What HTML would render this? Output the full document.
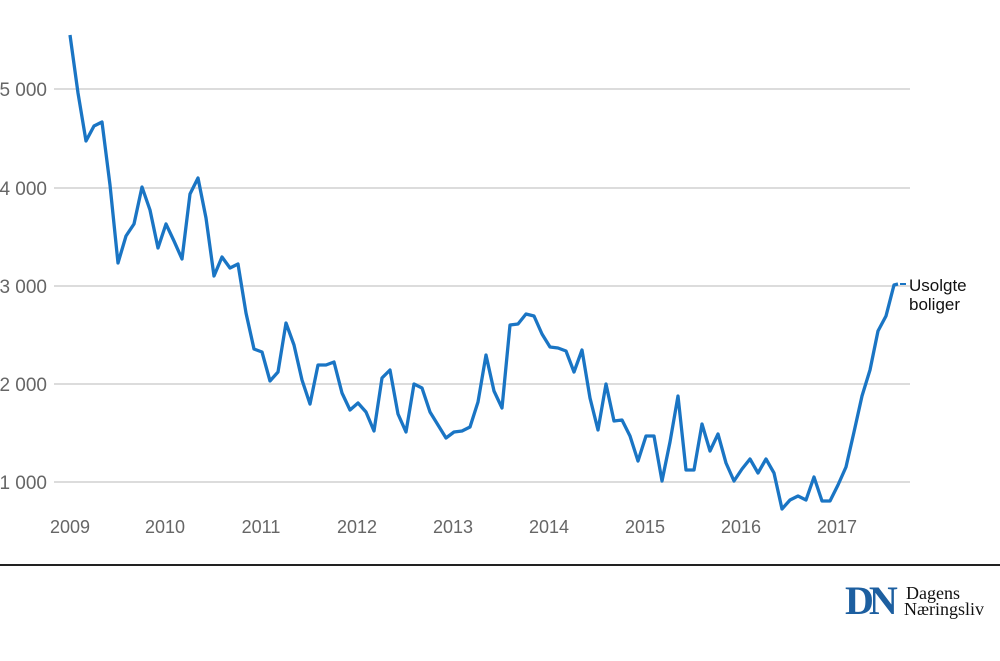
<!DOCTYPE html>
<html><head><meta charset="utf-8"><style>
body{margin:0;width:1000px;height:661px;background:#fff;overflow:hidden}
svg{display:block}
.s{font-family:"Liberation Sans",sans-serif}
.r{font-family:"Liberation Serif",serif}
</style></head><body>
<svg width="1000" height="661" viewBox="0 0 1000 661">
<g stroke="#dcdcdc" stroke-width="2">
<line x1="54" x2="910" y1="89" y2="89"/><line x1="54" x2="910" y1="188" y2="188"/>
<line x1="54" x2="910" y1="286" y2="286"/><line x1="54" x2="910" y1="384" y2="384"/>
<line x1="54" x2="910" y1="482" y2="482"/></g>
<g class="s" fill="#666" font-size="19" text-anchor="end">
<text x="47" y="96">5 000</text><text x="47" y="195">4 000</text><text x="47" y="293">3 000</text>
<text x="47" y="391">2 000</text><text x="47" y="489">1 000</text></g>
<g class="s" fill="#666" font-size="18" text-anchor="middle">
<text x="70" y="533">2009</text><text x="165" y="533">2010</text><text x="261" y="533">2011</text>
<text x="357" y="533">2012</text><text x="453" y="533">2013</text><text x="549" y="533">2014</text>
<text x="645" y="533">2015</text><text x="741" y="533">2016</text><text x="837" y="533">2017</text></g>
<polyline fill="none" stroke="#1a75c4" stroke-width="3.3" stroke-linejoin="round" points="70,35 78,93 86,141 94,126 102,122 110,185 118,263 126,236 134,224 142,187 150,210 158,248 166,224 174,241 182,259 190,194 198,178 206,218 214,276 222,257 230,268 238,264 246,313 254,349 262,352 270,381 278,372 286,323 294,345 302,380 310,404 318,365 326,365 334,362 342,393 350,410 358,403 366,412 374,431 382,378 390,370 398,414 406,432 414,384 422,388 430,412 438,425 446,438 454,432 462,431 470,427 478,402 486,355 494,391 502,408 510,325 518,324 526,314 534,316 542,334 550,347 558,348 566,351 574,372 582,350 590,398 598,430 606,384 614,421 622,420 630,436 638,461 646,436 654,436 662,481 670,442 678,396 686,470 694,470 702,424 710,451 718,434 726,463 734,481 742,469 750,459 758,473 766,459 774,473 782,509 790,500 798,496 806,500 814,477 822,501 830,501 838,485 846,467 854,432 862,396 870,370 878,331 886,316 894,285 898,284"/>
<line x1="900" x2="906" y1="284" y2="284" stroke="#1a75c4" stroke-width="2"/>
<text class="s" x="909" y="291" font-size="17" fill="#111">Usolgte</text>
<text class="s" x="909" y="310" font-size="17" fill="#111">boliger</text>
<line x1="0" x2="1000" y1="565" y2="565" stroke="#222" stroke-width="2"/>
<text class="r" x="845" y="614" font-size="40" font-weight="bold" fill="#1d5fa0" letter-spacing="-5">DN</text>
<text class="r" x="906" y="599" font-size="18" fill="#111">Dagens</text>
<text class="r" x="904" y="615" font-size="18" fill="#111">Næringsliv</text>
</svg>
</body></html>
